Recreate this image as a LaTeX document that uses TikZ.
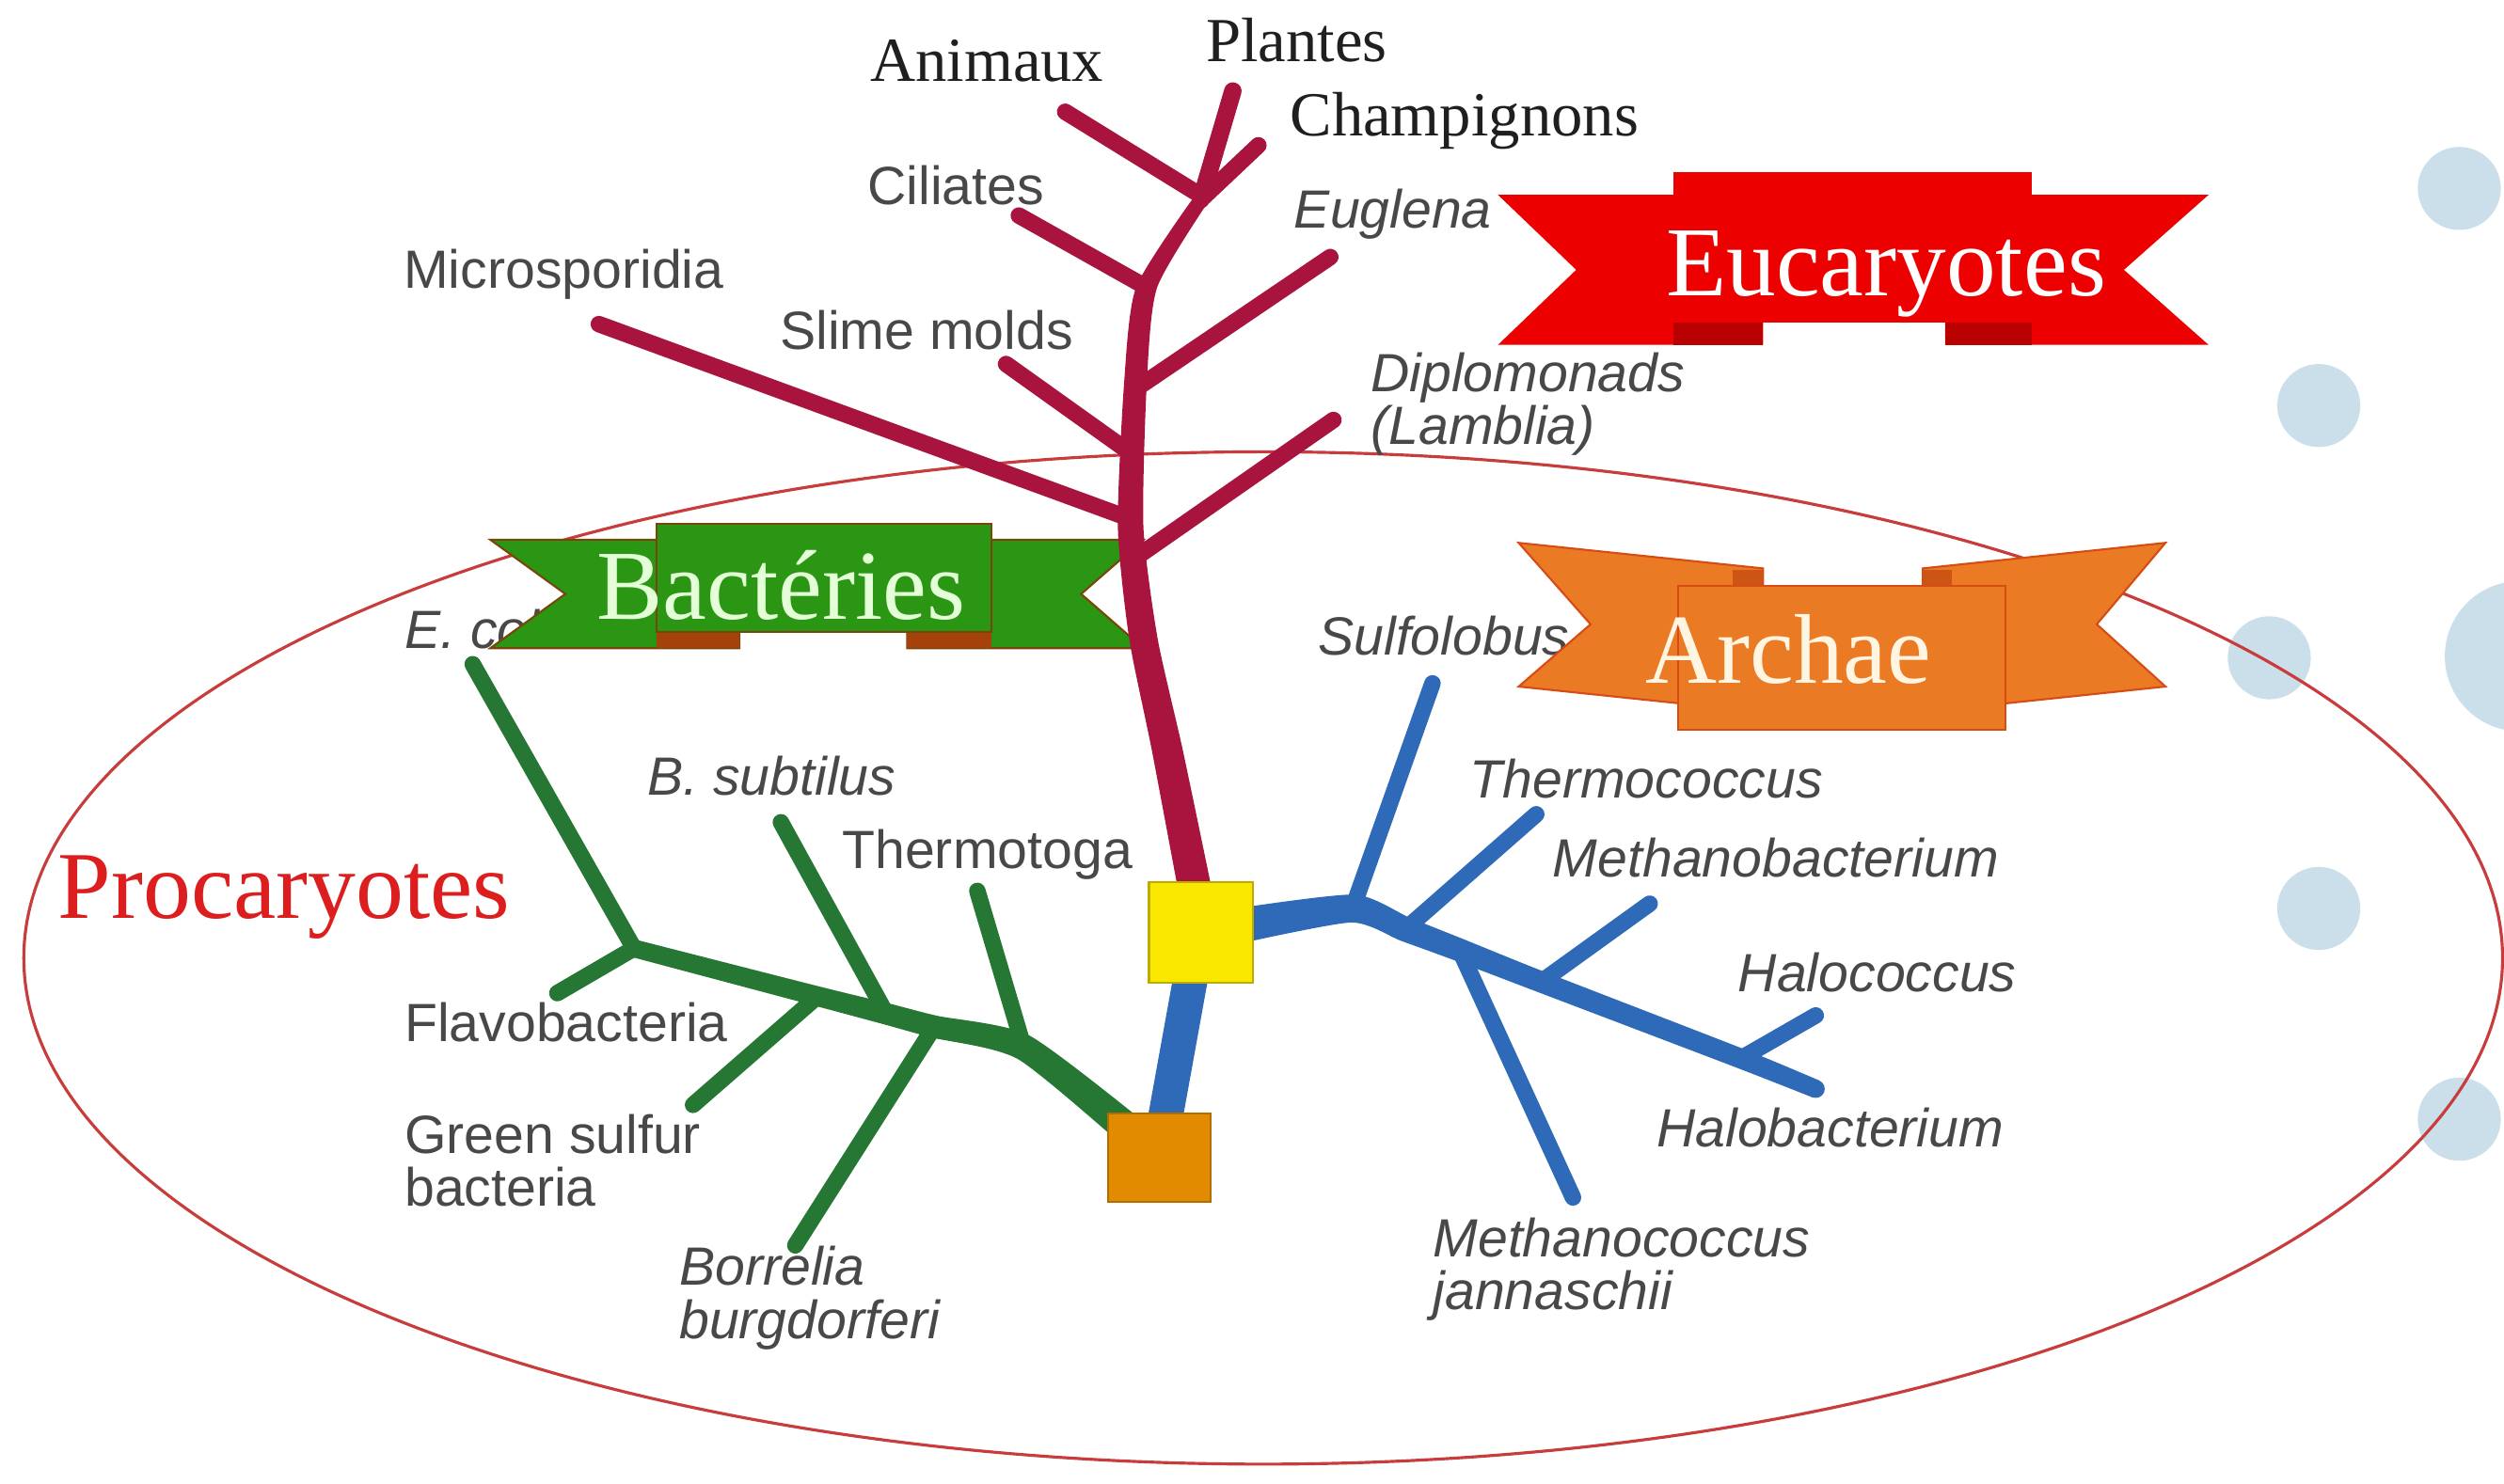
\documentclass[tikz,border=0pt]{standalone}
\usepackage{fontspec}
\usetikzlibrary{calc}
\setmainfont{Liberation Serif}
\newfontfamily\labsans{Liberation Sans}
\definecolor{euk}{RGB}{168,20,62}
\definecolor{bac}{RGB}{38,118,52}
\definecolor{arc}{RGB}{46,106,184}
\definecolor{elli}{RGB}{200,60,60}
\definecolor{dotblue}{RGB}{203,223,235}
\definecolor{labgray}{RGB}{72,72,72}
\definecolor{ribred}{RGB}{236,0,0}
\definecolor{ribreddark}{RGB}{185,0,0}
\definecolor{ribgreen}{RGB}{42,150,20}
\definecolor{ribgreenline}{RGB}{120,70,10}
\definecolor{ribgreenfold}{RGB}{165,65,10}
\definecolor{riborange}{RGB}{234,122,36}
\definecolor{riborangeline}{RGB}{215,75,20}
\definecolor{riborangefold}{RGB}{205,85,20}
\definecolor{yboxc}{RGB}{248,232,0}
\definecolor{oboxc}{RGB}{226,138,0}
\definecolor{procred}{RGB}{220,30,30}
\begin{document}
\begin{tikzpicture}[x=0.017cm,y=-0.017cm,
  sans/.style={font=\labsans\fontsize{16.3}{16}\selectfont, text=labgray, inner sep=0pt, align=left},
  sansit/.style={font=\labsans\itshape\fontsize{16.3}{16}\selectfont, text=labgray, inner sep=0pt, align=left},
  serif/.style={font=\fontsize{19}{22}\selectfont, text=black!88, inner sep=0pt},
  ribtext/.style={font=\fontsize{30}{34}\selectfont, inner sep=0pt},
  br/.style={line width=5pt, line cap=round, line join=round},
  eukbr/.style={br, draw=euk},
  bacbr/.style={br, draw=bac},
  arcbr/.style={br, draw=arc},
  boxst/.style={inner sep=0pt, line width=0.6pt}
]
\useasboundingbox (0,0) rectangle (1568,929);
% decorative dots
\fill[dotblue] (1540,118) circle[radius=0.442cm];
\fill[dotblue] (1452,254) circle[radius=0.442cm];
\fill[dotblue] (1421,412) circle[radius=0.442cm];
\fill[dotblue] (1578,411) circle[radius=0.80cm];
\fill[dotblue] (1452,569) circle[radius=0.442cm];
\fill[dotblue] (1540,701) circle[radius=0.442cm];
% procaryote ellipse
\draw[elli, line width=0.9pt] (791,600) ellipse[x radius=13.192cm, y radius=5.389cm];

% ---------- bacteria tree ----------
\coordinate (gO) at (712,712);
\coordinate (gT) at (641,656);
\coordinate (gB) at (585,643);
\coordinate (gS) at (555,635);
\coordinate (gG) at (512,624);
\coordinate (gE) at (397,594);
\coordinate (tThermotoga) at (612,558);
\coordinate (tBorrelia) at (498,780);
\coordinate (tBsub) at (489,515);
\coordinate (tGreen) at (434,692);
\coordinate (tEcoli) at (296,416);
\coordinate (tFlavo) at (349,622);
\draw[bacbr] (tThermotoga) -- (gT);
\draw[bacbr] (tBorrelia) -- (gB);
\draw[bacbr] (tBsub) -- (gS);
\draw[bacbr] (tGreen) -- (gG);
\draw[bacbr] (tEcoli) -- (gE);
\draw[bacbr] (tFlavo) -- (gE);
% tapered main stem gO - gT - gB - gS - gG - gE
\fill[bac] plot[smooth, tension=0.4] coordinates {(705.8,719.9) (637.5,663.4) (583.3,649.8) (553.3,641.5) (510.5,630) (395.6,599.4)}
  -- plot[smooth, tension=0.4] coordinates {(398.4,588.6) (513.6,618) (556.7,628.5) (586.7,636.2) (644.6,648.6) (718.2,704.2)} -- cycle;
\fill[bac] (gE) circle[radius=0.095cm];

% ---------- archaea tree ----------
\coordinate (aY) at (775,580);
\coordinate (aS) at (847,569);
\coordinate (aT) at (880,582);
\coordinate (aM) at (914,595);
\coordinate (aN) at (965,615);
\coordinate (aH) at (1090,663);
\coordinate (tSulfo) at (897,428);
\coordinate (tThermoc) at (962,510);
\coordinate (tMcocc) at (985,750);
\coordinate (tMbact) at (1033,566);
\coordinate (tHalococ) at (1137,636);
\coordinate (tHalobac) at (1137,682);
\draw[arcbr] (tSulfo) -- (aS);
\draw[arcbr] (tThermoc) -- (aT);
\draw[arcbr] (tMcocc) -- (aM);
\draw[arcbr] (tMbact) -- (aN);
\draw[arcbr] (tHalococ) -- (aH);
% tapered main stem aY - aS - aT - aM - aN - aH - tHalobac
\fill[arc] plot[smooth, tension=0.4] coordinates {(776.7,590.9) (846.0,577.8) (877.2,589.2) (911.4,601.7) (962.6,621.2) (1087.7,668.8) (1134.9,687.3)}
  -- plot[smooth, tension=0.4] coordinates {(1139.1,676.7) (1092.3,657.2) (967.4,608.8) (916.6,588.3) (882.8,574.8) (848.0,560.3) (773.3,569.1)} -- cycle;
\fill[arc] (tHalobac) circle[radius=0.096cm];
\coordinate (aYb) at (746,610);
\coordinate (aOt) at (729,704);
\draw[arcbr, line width=10.5pt, line cap=butt] (aYb) -- (aOt);

% ---------- labels ----------
\node[serif, anchor=center] (animaux) at (618,38) {Animaux};
\node[serif, anchor=center] (plantes) at (812,25) {Plantes};
\node[serif, anchor=center] (champ) at (917,76) {Champignons};
\node[sans, anchor=west] (ciliates) at (543,116) {Ciliates};
\node[sansit, anchor=west] (euglena) at (810,134) {Euglena};
\node[sans, anchor=center] (micro) at (353,172) {Microsporidia};
\node[sans, anchor=west] (slime) at (488,207) {Slime molds};
\node[sansit, anchor=west] (diplo) at (858,253) {Diplomonads\\(Lamblia)};
\node[sansit, anchor=west] (ecoli) at (253,394) {E. coli};
\node[sansit, anchor=west] (bsub) at (405,486) {B. subtilus};
\node[sans, anchor=west] (thermotoga) at (527,535) {Thermotoga};
\node[sans, anchor=west] (flavo) at (253,640) {Flavobacteria};
\node[sans, anchor=west] (greens) at (253,727) {Green sulfur\\bacteria};
\node[sansit, anchor=west] (borrelia) at (425,813) {Borrelia\\burgdorferi};
\node[sansit, anchor=west] (sulfo) at (825,398) {Sulfolobus};
\node[sansit, anchor=west] (thermoc) at (920,488) {Thermococcus};
\node[sansit, anchor=west] (mbact) at (972,537) {Methanobacterium};
\node[sansit, anchor=west] (halococ) at (1088,609) {Halococcus};
\node[sansit, anchor=west] (halobac) at (1037,706) {Halobacterium};
\node[sansit, anchor=west] (mcocc) at (897,795) {Methanococcus\\jannaschii};
\node[font=\fontsize{29}{32}\selectfont, text=procred, inner sep=0pt] (procar) at (178,562) {Procaryotes};

% ---------- ribbons ----------
% Eucaryotes
\fill[ribred] (938,122) -- (1104,122) -- (1104,216) -- (938,216) -- (987,169) -- cycle;
\fill[ribred] (1383,122) -- (1218,122) -- (1218,216) -- (1383,216) -- (1330,169) -- cycle;
\fill[ribreddark] (1048,200) rectangle (1104,216);
\fill[ribreddark] (1218,200) rectangle (1272,216);
\fill[ribred] (1048,108) rectangle (1272,202);
\node[ribtext, text=white, anchor=base] (eucar) at (1181,185) {Eucaryotes};
% Bacteries
\filldraw[fill=ribgreen, draw=ribgreenline, line width=0.6pt] (307,338) -- (463,338) -- (463,406) -- (307,406) -- (354,372) -- cycle;
\filldraw[fill=ribgreen, draw=ribgreenline, line width=0.6pt] (716,338) -- (568,338) -- (568,406) -- (716,406) -- (677,372) -- cycle;
\fill[ribgreenfold] (411,396) rectangle (463,406);
\fill[ribgreenfold] (568,396) rectangle (621,406);
\filldraw[fill=ribgreen, draw=ribgreenline, line width=0.6pt] (411,328) rectangle (621,396);
\node[ribtext, text={rgb,255:red,228;green,255;blue,215}, anchor=base] (bacter) at (489,388) {Bactéries};
% Archae
\filldraw[fill=riborange, draw=riborangeline, line width=0.6pt] (951,340) -- (1104,356) -- (1104,446) -- (951,430) -- (996,391) -- cycle;
\filldraw[fill=riborange, draw=riborangeline, line width=0.6pt] (1356,340) -- (1204,356) -- (1204,446) -- (1356,430) -- (1313,391) -- cycle;
\fill[riborangefold] (1085,357) rectangle (1104,368);
\fill[riborangefold] (1204,357) rectangle (1222,368);
\filldraw[fill=riborange, draw=riborangeline, line width=0.6pt] (1051,367) rectangle (1256,457);
\node[ribtext, text={rgb,255:red,255;green,245;blue,225}, anchor=base] (archae) at (1120,428) {Archae};

% ---------- eukaryote tree ----------
\coordinate (tB) at (750,566);
\coordinate (t1) at (731,470);
\coordinate (t2) at (716,400);
\coordinate (t3) at (708,330);
\coordinate (t4) at (711,240);
\coordinate (t5) at (718,180);
\coordinate (t6) at (752,125);
\coordinate (tPl) at (772,57);
\coordinate (tAn) at (667,70);
\coordinate (jAn) at (748,120);
\coordinate (tCh) at (788,91);
\coordinate (tCi) at (638,135);
\coordinate (tEu) at (833,161);
\coordinate (jEu) at (712,243);
\coordinate (tSl) at (630,228);
\coordinate (jSl) at (707,283);
\coordinate (tMi) at (375,203);
\coordinate (jMi) at (708,325);
\coordinate (tDi) at (835,263);
\coordinate (jDi) at (713,348);
\draw[eukbr] (tAn) -- (jAn);
\draw[eukbr] (tCh) -- (t6);
\draw[eukbr] (tCi) -- (t5);
\draw[eukbr] (tEu) -- (jEu);
\draw[eukbr] (tSl) -- (jSl);
\draw[eukbr] (tMi) -- (jMi);
\draw[eukbr] (tDi) -- (jDi);
% tapered trunk tB - t1 - ... - t6
\fill[euk] plot[smooth, tension=0.4] coordinates {(739.3,566) (721.3,470) (707.1,400) (700.0,330) (703.9,240) (711.4,180) (746.5,125)}
  -- plot[smooth, tension=0.4] coordinates {(757.5,125) (724.6,180) (718.1,240) (716.0,330) (724.9,400) (740.7,470) (760.7,566)} -- cycle;
\draw[eukbr, line width=5.3pt] (t6) -- (tPl);

% ---------- root boxes ----------
\node[boxst, fill=yboxc, draw={rgb,255:red,190;green,170;blue,0}, minimum width=65*0.017cm, minimum height=63*0.017cm] (ybox) at (752,584) {};
\node[boxst, fill=oboxc, draw={rgb,255:red,180;green,110;blue,0}, minimum width=64*0.017cm, minimum height=55*0.017cm] (obox) at (726,725) {};
\end{tikzpicture}
\end{document}
